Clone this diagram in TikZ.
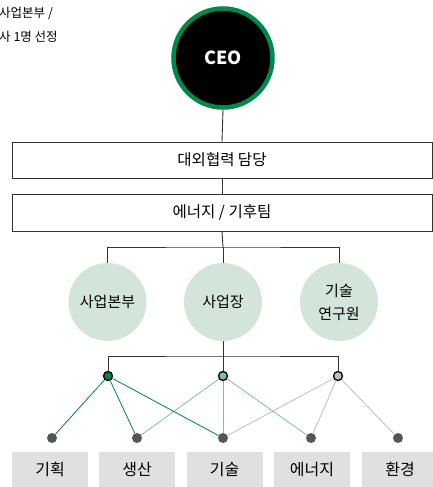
\documentclass[tikz,border=0pt]{standalone}
\usepackage{fontspec}
\setmainfont{Noto Sans CJK KR}
\usetikzlibrary{positioning}
\definecolor{cgreen}{HTML}{00874A}
\definecolor{dgreen}{HTML}{00804A}
\definecolor{mgreen}{HTML}{7CC09C}
\definecolor{lgray}{HTML}{BDBDBD}
\definecolor{sage}{HTML}{D3E5DA}
\definecolor{boxgray}{HTML}{E0E0E0}
\definecolor{dotgray}{HTML}{555555}
\definecolor{linec}{HTML}{333333}
\tikzset{
  hbox/.style={draw=linec, line width=0.9pt, minimum width=420pt, minimum height=36pt, inner sep=0pt, font=\fontsize{15.5}{18}\selectfont},
  unit/.style={circle, fill=sage, minimum size=78pt, inner sep=0pt, align=center, font=\fontsize{15}{23}\selectfont},
  topdot/.style={circle, draw=black, line width=1.3pt, minimum size=9pt, inner sep=0pt},
  botdot/.style={circle, fill=dotgray, minimum size=10pt, inner sep=0pt},
  field/.style={fill=boxgray, minimum width=76pt, minimum height=35pt, inner sep=0pt, font=\fontsize{16}{18}\selectfont},
  conn/.style={draw=linec, line width=0.9pt},
  gl/.style={draw=dgreen, line width=0.8pt},
  ml/.style={draw=mgreen, line width=0.8pt},
  yl/.style={draw=lgray, line width=0.8pt}
}
\begin{document}
\begin{tikzpicture}[x=1pt,y=-1pt]
\useasboundingbox (0,0) rectangle (433,487);
% note top-left
\node[anchor=west, inner sep=0pt, font=\fontsize{12.5}{14}\selectfont] (n1) at (-1,13) {사업본부 /};
\node[anchor=west, inner sep=0pt, font=\fontsize{12.5}{14}\selectfont] (n2) at (-1,37) {사 1명 선정};
% CEO
\node[circle, fill=black, draw=cgreen, line width=4.5pt, minimum size=99pt, inner sep=0pt, text=white, font=\fontsize{18}{20}\selectfont\bfseries] (ceo) at (223,58) {CEO};
% boxes
\node[hbox] (b1) at (222,160) {대외협력 담당};
\node[hbox, minimum height=37pt] (b2) at (222,212.5) {에너지 / 기후팀};
\draw[conn] (ceo.south) -- (b1.north);
\draw[conn] (b1.south) -- (b2.north);
% units
\node[unit] (u1) at (107.5,302) {사업본부};
\node[unit] (u2) at (223,302) {사업장};
\node[unit] (u3) at (339,302) {기술\\연구원};
\coordinate (bar) at (223,247);
\draw[conn] (b2.south) -- (bar);
\draw[conn] (u1.north) |- (bar) -| (u3.north);
\draw[conn] (bar) -- (u2.north);
% top dots
\node[topdot, fill=dgreen] (t1) at (108,376) {};
\node[topdot, fill=mgreen] (t2) at (223,376) {};
\node[topdot, fill=lgray] (t3) at (338,376) {};
\coordinate (bar2) at (223,356);
\draw[conn] (u2.south) -- (t2.north);
\draw[conn] (t1.north) |- (bar2) -| (t3.north);
% bottom dots
\node[botdot] (d1) at (52,438) {};
\node[botdot] (d2) at (137,438) {};
\node[botdot] (d3) at (223,438) {};
\node[botdot] (d4) at (311,438) {};
\node[botdot] (d5) at (398,438) {};
% links
\draw[yl] (t3) -- (d3);
\draw[yl] (t3) -- (d4);
\draw[yl] (t3) -- (d5);
\draw[ml] (t2) -- (d2);
\draw[ml] (t2) -- (d3);
\draw[ml] (t2) -- (d4);
\draw[gl] (t1) -- (d1);
\draw[gl] (t1) -- (d2);
\draw[gl] (t1) -- (d3);
% fields
\node[field] (f1) at (50,469.5) {기획};
\node[field] (f2) at (137,469.5) {생산};
\node[field] (f3) at (224.5,469.5) {기술};
\node[field] (f4) at (312,469.5) {에너지};
\node[field] (f5) at (400,469.5) {환경};
\end{tikzpicture}
\end{document}
